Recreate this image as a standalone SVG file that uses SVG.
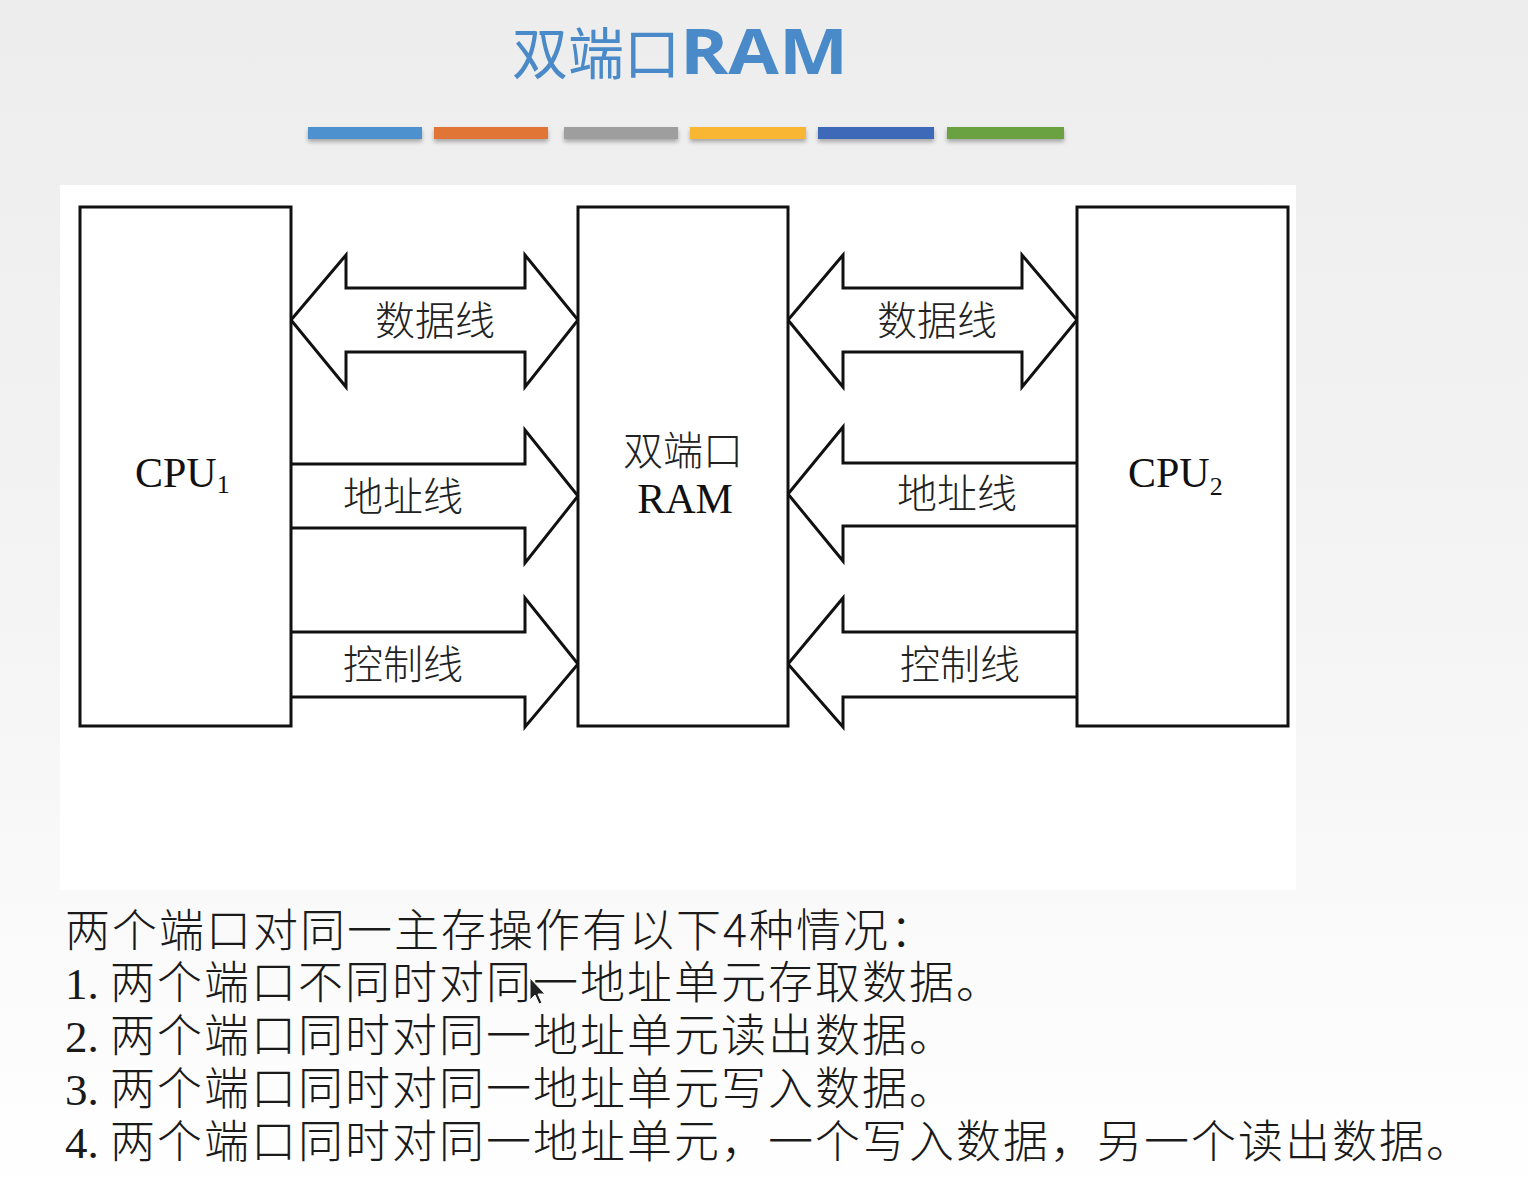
<svg xmlns="http://www.w3.org/2000/svg" width="1528" height="1200" viewBox="0 0 1528 1200">
  <defs>
    <linearGradient id="bg" x1="0" y1="0" x2="0" y2="1">
      <stop offset="0" stop-color="#ededed"/>
      <stop offset="0.5" stop-color="#f4f4f4"/>
      <stop offset="1" stop-color="#ffffff"/>
    </linearGradient>
    <filter id="barShadow" x="-10%" y="-50%" width="120%" height="250%">
      <feDropShadow dx="0" dy="3" stdDeviation="2" flood-color="#000" flood-opacity="0.3"/>
    </filter>
    <style>
      .box { fill: #ffffff; stroke: #111111; stroke-width: 3; }
      .bus { fill: #ffffff; stroke: #111111; stroke-width: 3; stroke-linejoin: miter; }
      .lbl { font-family: "Noto Sans CJK SC", sans-serif; font-size: 40px; font-weight: 300; fill: #222222; text-anchor: middle; }
      .latin { font-family: "Liberation Serif", serif; font-size: 42px; fill: #111111; }
      .sub { font-family: "Liberation Serif", serif; font-size: 26px; }
      .note { font-family: "Noto Sans CJK SC", sans-serif; font-size: 45px; font-weight: 300; fill: #1a1a1a; letter-spacing: 2px; }
      .num { font-family: "Liberation Serif", serif; letter-spacing: 0; }
    </style>
  </defs>

  <!-- slide background -->
  <rect width="1528" height="1200" fill="url(#bg)"/>

  <!-- title -->
  <g id="title">
    <text x="512" y="74" font-family="Noto Sans CJK SC, sans-serif" font-size="56" fill="#4a8ac8">双端口<tspan font-family="Open Sans, sans-serif" font-weight="bold" font-size="62" textLength="168" lengthAdjust="spacingAndGlyphs">RAM</tspan></text>
  </g>

  <!-- coloured rule under the title -->
  <g id="colour-bars" filter="url(#barShadow)">
    <rect x="308" y="127" width="114" height="12" fill="#4e91cf"/>
    <rect x="434" y="127" width="114" height="12" fill="#e07535"/>
    <rect x="564" y="127" width="114" height="12" fill="#9e9e9e"/>
    <rect x="690" y="127" width="116" height="12" fill="#f8b632"/>
    <rect x="818" y="127" width="116" height="12" fill="#3c69b8"/>
    <rect x="947" y="127" width="117" height="12" fill="#6aa242"/>
  </g>

  <!-- white panel holding the figure -->
  <rect x="60" y="185" width="1236" height="705" fill="#ffffff"/>

  <!-- bus connectors -->
  <g id="connectors">
    <polygon id="data-1" class="bus" points="291,320 346,255 346,288 525,288 525,255 578,320 525,387 525,352 346,352 346,387"/>
    <polyline id="addr-1" class="bus" points="291,464 525,464 525,430 578,496 525,563 525,528 291,528"/>
    <polyline id="ctrl-1" class="bus" points="291,632 525,632 525,598 578,664 525,727 525,697 291,697"/>

    <polygon id="data-2" class="bus" points="788,320 843,255 843,288 1022,288 1022,255 1077,320 1022,387 1022,352 843,352 843,387"/>
    <polyline id="addr-2" class="bus" points="1077,463 843,463 843,427 788,494 843,561 843,526 1077,526"/>
    <polyline id="ctrl-2" class="bus" points="1077,632 843,632 843,598 788,664 843,727 843,697 1077,697"/>

    <text class="lbl" x="435" y="335">数据线</text>
    <text class="lbl" x="403" y="511">地址线</text>
    <text class="lbl" x="403" y="679">控制线</text>
    <text class="lbl" x="937" y="335">数据线</text>
    <text class="lbl" x="957" y="508">地址线</text>
    <text class="lbl" x="960" y="679">控制线</text>
  </g>

  <!-- nodes -->
  <g id="cpu1">
    <rect class="box" x="80" y="207" width="211" height="519"/>
    <text class="latin" x="135" y="487">CPU<tspan class="sub" dy="6">1</tspan></text>
  </g>
  <g id="ram">
    <rect class="box" x="578" y="207" width="210" height="519"/>
    <text class="lbl" x="683" y="465">双端口</text>
    <text class="latin" x="685" y="513" text-anchor="middle">RAM</text>
  </g>
  <g id="cpu2">
    <rect class="box" x="1077" y="207" width="211" height="519"/>
    <text class="latin" x="1128" y="487">CPU<tspan class="sub" dy="8">2</tspan></text>
  </g>

  <!-- explanatory notes -->
  <g id="notes">
    <text class="note" x="65" y="947">两个端口对同一主存操作有以下4种情况：</text>
    <text class="note" x="65" y="999"><tspan class="num">1. </tspan>两个端口不同时对同一地址单元存取数据。</text>
    <text class="note" x="65" y="1052"><tspan class="num">2. </tspan>两个端口同时对同一地址单元读出数据。</text>
    <text class="note" x="65" y="1105"><tspan class="num">3. </tspan>两个端口同时对同一地址单元写入数据。</text>
    <text class="note" x="65" y="1158"><tspan class="num">4. </tspan>两个端口同时对同一地址单元，一个写入数据，另一个读出数据。</text>
  </g>

  <!-- pointer -->
  <polygon points="530,978 530,1000 535,995 539,1004 542,1003 538,994 545,994" fill="#222222" stroke="#ffffff" stroke-width="1"/>
</svg>
